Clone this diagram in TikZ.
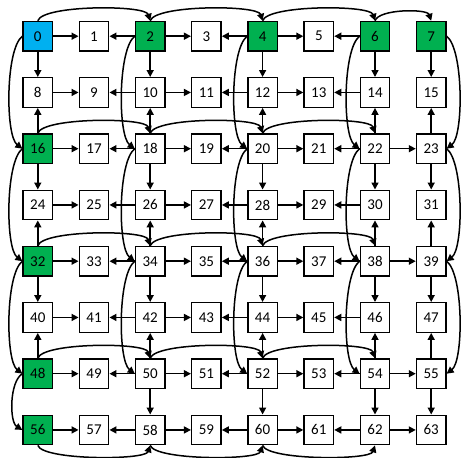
\documentclass[tikz,border=0pt]{standalone}
\usepackage{fontspec}
\setmainfont{Carlito}
\usetikzlibrary{arrows.meta}
\definecolor{cblue}{HTML}{00B0F0}
\definecolor{cgreen}{HTML}{00B050}
\begin{document}
\begin{tikzpicture}[x=1pt,y=-1pt,
  box/.style={draw=black,line width=1.4pt,fill=white,minimum size=29.5pt,inner sep=0pt,font=\fontsize{15}{15}\selectfont},
  arr/.style={line width=1.5pt,-{Triangle[length=7pt,width=7pt]}},
  c0/.style={fill=cblue},
  c2/.style={fill=cgreen}, c4/.style={fill=cgreen}, c6/.style={fill=cgreen}, c7/.style={fill=cgreen},
  c16/.style={fill=cgreen}, c32/.style={fill=cgreen}, c48/.style={fill=cgreen}, c56/.style={fill=cgreen},
]
\useasboundingbox (0,0) rectangle (461,458);
\foreach \i in {0,...,63}{
  \pgfmathtruncatemacro\c{mod(\i,8)}
  \pgfmathtruncatemacro\r{int(\i/8)}
  \node[box,c\i/.try] (n\i) at ({37.8+56.2*\c},{36.2+56.25*\r}) {\i};
}
% straight horizontal and vertical arrows
\foreach \a/\b in {0/1,2/1,2/3,4/3,4/5,6/5,
  8/9,10/9,10/11,12/11,12/13,14/13,
  16/17,18/17,18/19,20/19,20/21,22/21,22/23,
  24/25,26/25,26/27,28/27,28/29,30/29,
  32/33,34/33,34/35,36/35,36/37,38/37,38/39,
  40/41,42/41,42/43,44/43,44/45,46/45,
  48/49,50/49,50/51,52/51,52/53,54/53,54/55,
  56/57,58/57,58/59,60/59,60/61,62/61,62/63,
  0/8,2/10,4/12,6/14,7/15,
  16/8,18/10,20/12,22/14,23/15,
  16/24,18/26,20/28,22/30,23/31,
  32/24,34/26,36/28,38/30,39/31,
  32/40,34/42,36/44,38/46,39/47,
  48/40,50/42,52/44,54/46,55/47,
  50/58,52/60,54/62,55/63}
  \draw[arr] (n\a) -- (n\b);
% top arcs
\foreach \a/\b in {0/2,2/4,4/6,16/18,18/20,20/22,32/34,34/36,36/38,48/50,50/52,52/54}
  \draw[arr] (n\a.north) .. controls +(5,-16) and +(-5,-16) .. (n\b.north);
\draw[arr] (n6.north) .. controls +(4,-12) and +(-4,-12) .. (n7.north);
% bottom arcs
\foreach \a/\b in {56/58,58/60,60/62}
  \draw[arr] (n\a.south) .. controls +(5,15) and +(-5,15) .. (n\b.south);
% left curves
\foreach \a/\b in {0/16,16/32,32/48,2/18,18/34,34/50,4/20,20/36,36/52,6/22,22/38,38/54}
  \draw[arr] (n\a.west) .. controls +(-17,13) and +(-17,-13) .. (n\b.west);
\draw[arr] (n48.west) .. controls +(-13,8) and +(-13,-8) .. (n56.west);
% right curves
\foreach \a/\b in {7/23,23/39,39/55}
  \draw[arr] (n\a.east) .. controls +(17,13) and +(17,-13) .. (n\b.east);
\end{tikzpicture}
\end{document}
